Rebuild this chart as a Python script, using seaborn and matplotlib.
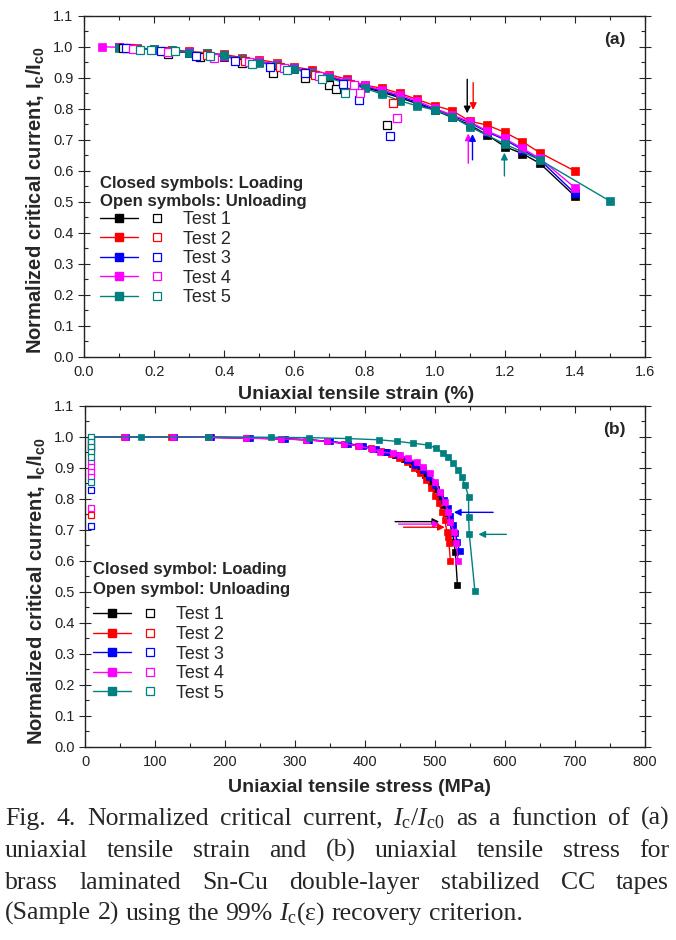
import numpy as np
import pandas as pd
import matplotlib
matplotlib.use("Agg")
import matplotlib.pyplot as plt
import seaborn as sns
from matplotlib.lines import Line2D
from matplotlib.legend_handler import HandlerTuple
from matplotlib.font_manager import FontProperties
from matplotlib.ticker import MultipleLocator, FormatStrFormatter

# ---------------- data: panel (a) strain ----------------
tests = ["Test 1", "Test 2", "Test 3", "Test 4", "Test 5"]
colors = ["#000000", "#FF0000", "#0000FF", "#FF00FF", "#008080"]

strain_t1 = [0.10, 0.15, 0.20, 0.25, 0.30, 0.35, 0.40, 0.45, 0.50, 0.55, 0.60, 0.65, 0.70,
             0.75, 0.80, 0.85, 0.90, 0.95, 1.00, 1.05, 1.10, 1.15, 1.20, 1.25, 1.30, 1.40]
ic_a_t1 = [0.998, 0.994, 0.990, 0.986, 0.980, 0.975, 0.968, 0.958, 0.950, 0.940, 0.928, 0.915, 0.900,
           0.885, 0.869, 0.853, 0.836, 0.816, 0.795, 0.772, 0.748, 0.715, 0.678, 0.655, 0.624, 0.518]
strain_t2 = [0.10, 0.15, 0.20, 0.25, 0.30, 0.35, 0.40, 0.45, 0.50, 0.55, 0.60, 0.65, 0.70,
             0.75, 0.80, 0.85, 0.90, 0.95, 1.00, 1.05, 1.10, 1.15, 1.20, 1.25, 1.30, 1.40]
ic_a_t2 = [0.998, 0.995, 0.993, 0.990, 0.985, 0.980, 0.975, 0.965, 0.958, 0.948, 0.935, 0.925, 0.910,
           0.895, 0.876, 0.866, 0.850, 0.830, 0.810, 0.794, 0.760, 0.747, 0.724, 0.694, 0.658, 0.599]
strain_t3 = [0.10, 0.15, 0.20, 0.25, 0.30, 0.35, 0.40, 0.45, 0.50, 0.55, 0.60, 0.65, 0.70,
             0.75, 0.80, 0.85, 0.90, 0.95, 1.00, 1.05, 1.10, 1.15, 1.20, 1.25, 1.30, 1.40]
ic_a_t3 = [0.998, 0.994, 0.990, 0.987, 0.982, 0.977, 0.970, 0.960, 0.952, 0.942, 0.930, 0.918, 0.903,
           0.888, 0.872, 0.857, 0.840, 0.820, 0.798, 0.777, 0.755, 0.725, 0.700, 0.668, 0.635, 0.527]
strain_t4 = [0.05, 0.10, 0.15, 0.20, 0.25, 0.30, 0.35, 0.40, 0.45, 0.50, 0.55, 0.60, 0.65, 0.70,
             0.75, 0.80, 0.85, 0.90, 0.95, 1.00, 1.05, 1.10, 1.15, 1.20, 1.25, 1.30, 1.40]
ic_a_t4 = [1.000, 0.998, 0.994, 0.990, 0.987, 0.982, 0.977, 0.970, 0.960, 0.953, 0.943, 0.930, 0.920, 0.905,
           0.890, 0.875, 0.860, 0.845, 0.825, 0.801, 0.780, 0.758, 0.728, 0.704, 0.672, 0.640, 0.545]
strain_t5 = [0.10, 0.15, 0.20, 0.25, 0.30, 0.35, 0.40, 0.45, 0.50, 0.55, 0.60, 0.65, 0.70,
             0.75, 0.80, 0.85, 0.90, 0.95, 1.00, 1.05, 1.10, 1.20, 1.30, 1.50]
ic_a_t5 = [0.997, 0.992, 0.992, 0.989, 0.981, 0.979, 0.973, 0.959, 0.948, 0.941, 0.927, 0.914, 0.898,
           0.882, 0.866, 0.847, 0.826, 0.809, 0.796, 0.774, 0.742, 0.686, 0.635, 0.502]

# unloading (open symbols), panel (a)
ustrain_t1 = [0.11, 0.24, 0.33, 0.45, 0.54, 0.63, 0.70, 0.72, 0.865]
uic_a_t1 = [0.995, 0.975, 0.968, 0.946, 0.915, 0.898, 0.876, 0.862, 0.747]
ustrain_t2 = [0.13, 0.23, 0.35, 0.46, 0.56, 0.66, 0.76, 0.882]
uic_a_t2 = [0.995, 0.985, 0.972, 0.955, 0.935, 0.910, 0.880, 0.819]
ustrain_t3 = [0.12, 0.22, 0.32, 0.43, 0.53, 0.63, 0.74, 0.785, 0.873]
uic_a_t3 = [0.995, 0.985, 0.970, 0.955, 0.935, 0.915, 0.880, 0.828, 0.712]
ustrain_t4 = [0.14, 0.24, 0.37, 0.47, 0.57, 0.67, 0.77, 0.787, 0.892]
uic_a_t4 = [0.993, 0.983, 0.965, 0.950, 0.930, 0.905, 0.875, 0.850, 0.769]
ustrain_t5 = [0.16, 0.19, 0.26, 0.36, 0.48, 0.58, 0.68, 0.745]
uic_a_t5 = [0.990, 0.990, 0.985, 0.970, 0.945, 0.925, 0.895, 0.852]

# ---------------- data: panel (b) stress ----------------
stress_t1 = [8, 57, 125, 178, 232, 282, 318, 347, 372, 393, 412, 428, 443, 456, 467, 477, 486,
             494, 501, 507, 512, 517, 521, 525, 527, 529, 532]
ic_b_t1 = [1.0, 1.0, 1.0, 0.998, 0.996, 0.993, 0.990, 0.985, 0.978, 0.970, 0.960, 0.950, 0.940,
           0.928, 0.912, 0.895, 0.875, 0.853, 0.830, 0.805, 0.780, 0.755, 0.725, 0.690, 0.660, 0.629, 0.522]
stress_t2 = [8, 55, 123, 176, 230, 280, 316, 345, 370, 390, 408, 423, 437, 449, 460, 470, 479,
             487, 494, 500, 505, 510, 514, 517, 519, 520, 522]
ic_b_t2 = [1.0, 1.0, 1.0, 0.998, 0.996, 0.993, 0.990, 0.985, 0.978, 0.970, 0.962, 0.953, 0.943,
           0.932, 0.918, 0.900, 0.882, 0.860, 0.835, 0.810, 0.785, 0.758, 0.730, 0.694, 0.675, 0.656, 0.599]
stress_t3 = [8, 58, 127, 180, 235, 285, 320, 350, 376, 397, 416, 432, 447, 460, 472, 483, 492,
             500, 507, 513, 518, 522, 526, 529, 532, 535]
ic_b_t3 = [1.0, 1.0, 1.0, 0.998, 0.996, 0.993, 0.990, 0.985, 0.978, 0.970, 0.960, 0.950, 0.940,
           0.926, 0.910, 0.892, 0.870, 0.845, 0.820, 0.795, 0.770, 0.745, 0.715, 0.690, 0.660, 0.630]
stress_t4 = [8, 57, 125, 177, 230, 280, 315, 345, 370, 392, 410, 421, 440, 450, 462, 474, 483,
             493, 500, 507, 514, 519, 521, 527, 530, 533]
ic_b_t4 = [1.0, 1.0, 1.0, 0.998, 0.995, 0.993, 0.990, 0.985, 0.978, 0.970, 0.960, 0.952, 0.946,
           0.941, 0.930, 0.919, 0.903, 0.882, 0.855, 0.823, 0.790, 0.758, 0.726, 0.694, 0.658, 0.598]
stress_t5 = [8, 80, 175, 265, 320, 375, 420, 445, 469, 490, 502, 512, 519, 526, 533, 538, 543,
             548, 548, 549, 557]
ic_b_t5 = [1.0, 1.0, 1.0, 0.998, 0.997, 0.994, 0.990, 0.985, 0.979, 0.973, 0.963, 0.946, 0.935,
           0.914, 0.893, 0.871, 0.844, 0.806, 0.740, 0.686, 0.502]

# unloading (open symbols), panel (b): stress returns to ~9 MPa
ustress_t1 = [9, 9]
uic_b_t1 = [0.990, 0.970]
ustress_t2 = [9, 9]
uic_b_t2 = [0.960, 0.747]
ustress_t3 = [9, 9]
uic_b_t3 = [0.828, 0.712]
ustress_t4 = [9, 9, 9, 9, 9]
uic_b_t4 = [0.919, 0.903, 0.887, 0.871, 0.769]
ustress_t5 = [9, 9, 9, 9, 9, 9]
uic_b_t5 = [0.998, 0.984, 0.968, 0.952, 0.935, 0.855]

# arrows (tail x, tail y, tip x, tip y)
arrows_a = [(1.093, 0.895, 1.093, 0.785, "#000000"),
            (1.110, 0.884, 1.110, 0.796, "#FF0000"),
            (1.096, 0.624, 1.096, 0.720, "#FF00FF"),
            (1.108, 0.635, 1.108, 0.718, "#0000FF"),
            (1.199, 0.583, 1.199, 0.658, "#008080")]
arrows_b = [(583, 0.756, 527, 0.756, "#0000FF"),
            (443, 0.726, 506, 0.726, "#000000"),
            (448, 0.718, 507, 0.718, "#FF00FF"),
            (455, 0.708, 514, 0.708, "#FF0000"),
            (602, 0.685, 562, 0.685, "#008080")]

load_a = [(strain_t1, ic_a_t1), (strain_t2, ic_a_t2), (strain_t3, ic_a_t3), (strain_t4, ic_a_t4), (strain_t5, ic_a_t5)]
unload_a = [(ustrain_t1, uic_a_t1), (ustrain_t2, uic_a_t2), (ustrain_t3, uic_a_t3), (ustrain_t4, uic_a_t4), (ustrain_t5, uic_a_t5)]
load_b = [(stress_t1, ic_b_t1), (stress_t2, ic_b_t2), (stress_t3, ic_b_t3), (stress_t4, ic_b_t4), (stress_t5, ic_b_t5)]
unload_b = [(ustress_t1, uic_b_t1), (ustress_t2, uic_b_t2), (ustress_t3, uic_b_t3), (ustress_t4, uic_b_t4), (ustress_t5, uic_b_t5)]

# ---------------- style ----------------
sns.set_style("ticks")
plt.rcParams["font.family"] = ["Liberation Sans", "DejaVu Sans"]
plt.rcParams["mathtext.fontset"] = "custom"
plt.rcParams["mathtext.rm"] = "Liberation Serif"
plt.rcParams["mathtext.it"] = "Liberation Serif:italic"
plt.rcParams["mathtext.bf"] = "Liberation Sans:bold"

fig = plt.figure(figsize=(6.76, 9.40), dpi=100)
W, H = 676, 940
ax_a = fig.add_axes([84 / W, 1 - 356.7 / H, 561 / W, 341 / H])
ax_b = fig.add_axes([85 / W, 1 - 746.7 / H, 560 / W, 341 / H])


def draw_panel(ax, loads, unloads, ms, ms_open):
    for (x, y), c in zip(loads, colors):
        sns.lineplot(x=x, y=y, ax=ax, color=c, marker="s", markersize=ms,
                     markeredgecolor=c, markeredgewidth=0.5, linewidth=1.0,
                     estimator=None, sort=False, legend=False)
    for (x, y), c in zip(unloads, colors):
        sns.lineplot(x=x, y=y, ax=ax, color=c, marker="s", markersize=ms_open,
                     markerfacecolor="white", markeredgecolor=c, markeredgewidth=0.9,
                     linestyle="none", estimator=None, sort=False, legend=False)


draw_panel(ax_a, load_a, unload_a, 6.0, 5.5)
draw_panel(ax_b, load_b, unload_b, 5.0, 5.0)

for (x0, y0, x1, y1, c) in arrows_a:
    ax_a.annotate("", xy=(x1, y1), xytext=(x0, y0),
                  arrowprops=dict(arrowstyle="-|>", color=c, lw=1.0, mutation_scale=10, shrinkA=0, shrinkB=0))
for (x0, y0, x1, y1, c) in arrows_b:
    ax_b.annotate("", xy=(x1, y1), xytext=(x0, y0),
                  arrowprops=dict(arrowstyle="-|>", color=c, lw=1.0, mutation_scale=10, shrinkA=0, shrinkB=0))

ylab = r"Normalized critical current, I$_\mathbf{c}$/I$_\mathbf{c0}$"
for ax, xmax, xmaj, xmin, xlabel, tag, xl_x, xl_y, yl_y in [
        (ax_a, 1.6, 0.2, 0.1, "Uniaxial tensile strain (%)", "(a)", 0.485, -0.085, 0.46),
        (ax_b, 800, 100, 50, "Uniaxial tensile stress (MPa)", "(b)", 0.49, -0.096, 0.457)]:
    ax.set_xlim(0, xmax)
    ax.set_ylim(0, 1.1)
    ax.xaxis.set_major_locator(MultipleLocator(xmaj))
    ax.xaxis.set_minor_locator(MultipleLocator(xmin))
    ax.yaxis.set_major_locator(MultipleLocator(0.1))
    ax.yaxis.set_minor_locator(MultipleLocator(0.05))
    if xmax < 10:
        ax.xaxis.set_major_formatter(FormatStrFormatter("%.1f"))
    ax.yaxis.set_major_formatter(FormatStrFormatter("%.1f"))
    ax.tick_params(which="both", direction="in", top=True, right=True, labelsize=10.5,
                   labelcolor="#222222", width=0.8)
    ax.tick_params(which="major", length=5)
    ax.tick_params(which="minor", length=3)
    ax.tick_params(axis="x", which="major", pad=6)
    ax.tick_params(axis="y", which="major", direction="inout", length=8)
    for s in ax.spines.values():
        s.set_linewidth(1.0)
        s.set_color("#222222")
    ax.set_xlabel(xlabel, fontsize=14, fontweight="bold")
    ax.set_ylabel(ylab, fontsize=14.5, fontweight="bold")
    ax.xaxis.set_label_coords(xl_x, xl_y)
    ax.yaxis.set_label_coords(-0.068, yl_y)
    ax.text(0.965, 0.929, tag, transform=ax.transAxes, fontsize=12.5, fontweight="bold",
            ha="right", va="center")

# legends
for ax, title, anchor, tls, extra_sep in [
        (ax_a, "Closed symbols: Loading\nOpen symbols: Unloading", (0.029, 0.531), 1.25, 0.0),
        (ax_b, "Closed symbol: Loading\nOpen symbol: Unloading", (0.0143, 0.541), 1.4, 5.0)]:
    handles = []
    for c in colors:
        h1 = Line2D([], [], color=c, marker="s", markersize=6, lw=1, markeredgecolor=c)
        h2 = Line2D([], [], color=c, marker="s", markersize=5.5, lw=0,
                    markerfacecolor="white", markeredgecolor=c, markeredgewidth=0.9)
        handles.append((h1, h2))
    leg = ax.legend(handles, tests, handler_map={tuple: HandlerTuple(ndivide=None, pad=0.0)},
                    loc="upper left", bbox_to_anchor=anchor, frameon=False,
                    handlelength=4.2, handletextpad=0.4, labelspacing=0.14,
                    borderpad=0.0, borderaxespad=0.0, fontsize=13,
                    title=title, alignment="left",
                    title_fontproperties=FontProperties(family="Liberation Sans", weight="bold", size=12.1))
    leg.get_title().set_linespacing(tls)
    leg._legend_box.sep = leg._legend_box.sep + extra_sep

# caption (justified lines)
cap_lines = [
    "Fig. 4. Normalized critical current, $I_\\mathrm{c}$/$I_\\mathrm{c0}$ as a function of (a)",
    "uniaxial tensile strain and (b) uniaxial tensile stress for",
    "brass laminated Sn-Cu double-layer stabilized CC tapes",
    "(Sample 2) using the 99% $I_\\mathrm{c}$(ε) recovery criterion.",
]
cap_fs = 18.5
cap_y = [825, 857, 889, 920]
left_px, right_px = 5, 669
renderer = fig.canvas.get_renderer()
for k, (line, yb) in enumerate(zip(cap_lines, cap_y)):
    words = line.split(" ")
    txts = [fig.text(0, 1 - yb / H, w, fontsize=cap_fs, family="Liberation Serif",
                     ha="left", va="baseline") for w in words]
    widths = [t.get_window_extent(renderer).width for t in txts]
    if k < len(cap_lines) - 1:
        gap = (right_px - left_px - sum(widths)) / (len(words) - 1)
    else:
        sp = fig.text(0, 0, "a a", fontsize=cap_fs, family="Liberation Serif")
        sp2 = fig.text(0, 0, "aa", fontsize=cap_fs, family="Liberation Serif")
        gap = sp.get_window_extent(renderer).width - sp2.get_window_extent(renderer).width
        sp.remove(); sp2.remove()
    x = left_px
    for t, w in zip(txts, widths):
        t.set_x(x / W)
        x += w + gap

fig.savefig("out.png", dpi=100)
